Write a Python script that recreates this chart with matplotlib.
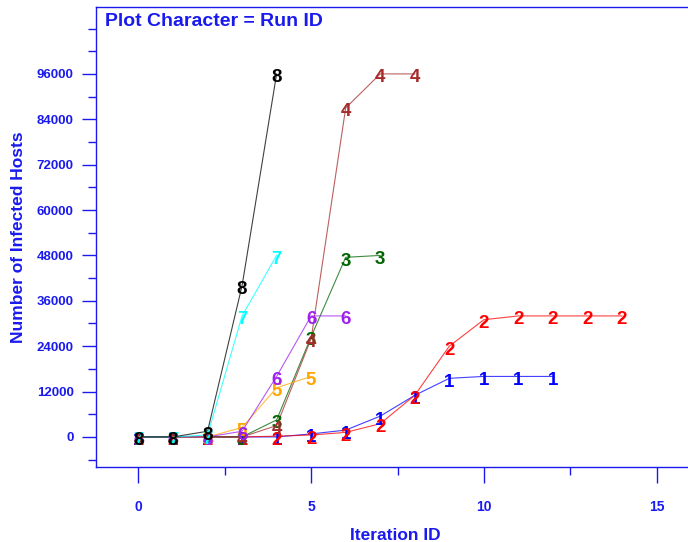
import matplotlib
matplotlib.use("Agg")
from matplotlib import pyplot as plt
from matplotlib.ticker import MultipleLocator
from matplotlib.transforms import offset_copy

# infected host counts per iteration, one list per run
run_ids = ["1", "2", "3", "4", "5", "6", "7", "8"]
run_colors = ["#0000ff", "#ff0000", "#006400", "#a52a2a", "#ffa500", "#a020f0", "#00ffff", "#000000"]
run_hosts = [
    [0, 0, 0, 0, 0, 800, 1800, 5500, 11000, 15500, 16000, 16000, 16000],
    [0, 0, 0, 0, 200, 500, 1200, 3500, 11000, 24000, 31000, 32000, 32000, 32000, 32000],
    [0, 0, 0, 0, 4500, 26500, 47500, 48000],
    [0, 0, 0, 0, 3000, 26000, 87000, 96000, 96000],
    [0, 0, 0, 2500, 13000, 16000],
    [0, 0, 0, 1500, 16000, 32000, 32000],
    [0, 0, 500, 32000, 48000],
    [0, 0, 1500, 40000, 96000],
]

x_ticks = [0, 5, 10, 15]
y_ticks = [0, 12000, 24000, 36000, 48000, 60000, 72000, 84000, 96000]

blue = "#1a1aee"
font = "Liberation Sans"

fig = plt.figure(figsize=(6.88, 5.42), dpi=100)
ax = fig.add_axes([0.1395, 0.1384, 0.87, 0.8487])

# plot characters sit a little below the point they mark
char_trans = offset_copy(ax.transData, fig=fig, x=0, y=-4, units="dots")

for rid, color, hosts in zip(run_ids, run_colors, run_hosts):
    iters = list(range(len(hosts)))
    ax.plot(iters, hosts, color=color, lw=0.8, alpha=0.75, zorder=2)
    for i, h in zip(iters, hosts):
        ax.text(i, h, rid, color=color, fontsize=13.5, fontweight="bold", family=font,
                ha="center", va="center", zorder=3, transform=char_trans)

ax.set_xlim(-1.23, 16.1)
ax.set_ylim(-7950, 113700)

ax.set_xticks(x_ticks)
ax.xaxis.set_minor_locator(MultipleLocator(2.5))
ax.set_yticks(y_ticks)
ax.yaxis.set_minor_locator(MultipleLocator(6000))

ax.tick_params(axis="x", which="major", length=11.5, width=1, color=blue, pad=12,
               labelsize=10, labelcolor=blue)
ax.tick_params(axis="x", which="minor", length=6, width=1, color=blue)
ax.tick_params(axis="y", which="major", length=10, width=1, color=blue, pad=6,
               labelsize=9.5, labelcolor=blue)
ax.tick_params(axis="y", which="minor", length=6, width=1, color=blue)
for lab in ax.get_xticklabels() + ax.get_yticklabels():
    lab.set_fontweight("bold")
    lab.set_family(font)

for side in ["left", "bottom", "top"]:
    ax.spines[side].set_color(blue)
    ax.spines[side].set_linewidth(1)
ax.spines["right"].set_visible(False)

ax.set_xlabel("Iteration ID", fontsize=12.5, fontweight="bold", color=blue, family=font, labelpad=10)
ax.set_ylabel("Number of Infected Hosts", fontsize=12.5, fontweight="bold", color=blue, family=font, labelpad=8)
ax.text(0.015, 0.988, "Plot Character = Run ID", transform=ax.transAxes, fontsize=14,
        fontweight="bold", color=blue, family=font, ha="left", va="top")

fig.savefig("out.png", dpi=100)
